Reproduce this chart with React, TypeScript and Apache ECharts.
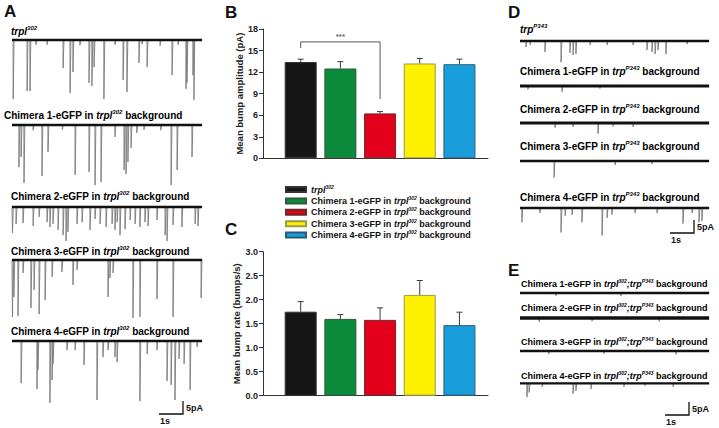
import React, { useEffect, useRef } from "react";
import * as echarts from "echarts";

type Ev = [number, number]; // [time (s), bump amplitude (pA, downward)]

// ---------- Bar chart data (B, C) ----------
const CATEGORIES = [
  "trpl302",
  "Chimera 1-eGFP in trpl302 background",
  "Chimera 2-eGFP in trpl302 background",
  "Chimera 3-eGFP in trpl302 background",
  "Chimera 4-eGFP in trpl302 background",
];
const BAR_POS = [1, 2, 3, 4, 5];
const AMP_MEAN = [13.4, 12.5, 6.25, 13.2, 13.1];
const AMP_ERR = [13.8, 13.45, 6.5, 13.9, 13.8];
const RATE_MEAN = [1.75, 1.6, 1.58, 2.1, 1.47];
const RATE_ERR = [1.96, 1.69, 1.83, 2.4, 1.74];
const AMP_TICKS = { min: 0, max: 18, step: 3 };
const RATE_TICKS = { min: 0, max: 3, step: 0.5 };
const SIG_BRACKET: number[][] = [
  [1, 15.35],
  [1, 16.2],
  [3, 16.2],
  [3, 8.25],
];
const SIG_LABEL = "***";

// ---------- Trace data (bump events read from the records) ----------
const A1: Ev[] = [[0.05,22.7],[0.63,19.6],[0.75,19.6],[1.0,1.8],[1.46,1.8],[2.13,10.8],[2.42,20.4],[2.54,12.3],[2.83,2],[3.21,16.5],[3.33,17.7],[3.42,10.4],[3.83,22.7],[4.29,1.8],[4.63,15.4],[4.79,20],[5.29,8.8],[5.42,1.6],[5.63,10.4],[6.17,2.2],[6.67,13.5],[6.92,1.8],[7.25,18.8],[7.29,16.5],[7.54,13.5],[7.58,23]];
const A2: Ev[] = [[0.29,16.2],[0.38,12.3],[0.5,22.3],[0.88,2],[1.25,19.6],[1.5,10.4],[2.1,1.8],[2.63,19.2],[3.21,18.1],[3.46,23.1],[3.71,21.9],[4.29,4.6],[4.67,17.3],[4.75,18.8],[4.83,14.2],[4.96,8.8],[5.2,3],[5.5,1.8],[6.2,2],[6.63,23.1],[6.88,17.3],[7.5,12.3]];
const A3: Ev[] = [[0.02,10],[0.17,6.5],[0.46,6.2],[0.88,7.3],[1.13,3.8],[1.46,5.8],[1.58,7.7],[1.71,6.5],[1.92,8.8],[2.13,10.8],[2.25,13.1],[2.33,9.6],[2.71,6.5],[2.92,5.8],[3.25,8.8],[3.46,4.6],[3.67,6.5],[3.92,7.7],[4.17,6.5],[4.29,8.8],[4.38,5.8],[4.5,10.8],[4.71,8.5],[4.92,5],[5.13,6.5],[5.33,7.7],[5.54,5.8],[5.67,7.3],[6.04,5],[6.38,10.8],[6.46,13.1],[6.71,6.9],[7.08,7.7],[7.63,6.5],[7.75,7.3]];
const A4: Ev[] = [[0.02,21.9],[0.08,14.2],[0.25,21.5],[0.46,5],[0.79,18.5],[0.92,11.5],[1.13,20.8],[1.38,15.4],[1.67,6.5],[2.08,4.6],[2.54,9.6],[2.71,3.8],[4.0,14.2],[4.08,6.9],[4.21,5],[5.04,22.3],[5.33,21.9],[6.04,15],[6.71,21.9],[7.88,14.6]];
const A5: Ev[] = [[0.38,16.2],[1.04,18.5],[1.08,11.2],[1.58,23.8],[1.67,15],[1.71,8.8],[2.29,3.5],[2.63,3.5],[3.0,9.2],[3.54,22.7],[3.79,6.2],[4.0,3.5],[4.29,6.2],[4.38,8.1],[5.33,23.1],[5.63,5],[6.04,3.5],[6.46,15.4],[6.63,16.9],[6.79,22.7],[6.96,6.9],[7.17,8.8],[7.42,18.8],[7.71,2.3]];

const D1: Ev[] = [[0.25,2.3],[0.42,1.5],[1.04,4.2],[1.71,8.1],[2.08,4.6],[2.21,5.4],[2.33,5],[2.92,1.5],[3.63,1.5],[4.71,1.5],[5.29,3.5],[5.5,4.2],[5.63,5],[5.75,3.5],[6.08,5],[6.96,1.2]];
const D2: Ev[] = [[0.33,1.3],[1.75,2.2],[3.33,1]];
const D3: Ev[] = [[1.46,1.8],[2.21,1.5],[3.25,4.1],[3.88,1.3],[4.71,1.5]];
const D4: Ev[] = [[1.42,6.3],[3.96,1.5],[5.5,1.2]];
const D5: Ev[] = [[0.08,5.5],[0.83,1.9],[1.71,9.4],[1.88,3],[2.17,2.6],[2.58,5.5],[3.42,10.6],[3.63,3.8],[3.83,2.6],[4.79,1.9],[5.71,1.9],[6.79,6],[7.17,1.9],[7.46,5.5],[7.58,5]];

const E1: Ev[] = [[1.5,1],[4.2,1.2]];
const E2: Ev[] = [[0.8,1.5],[3.0,1.2],[5.8,1.3]];
const E3: Ev[] = [[1.2,1.2],[3.5,1],[6.5,1.3]];
const E4: Ev[] = [[0.29,7.7],[0.38,5.1],[0.92,1.9],[2.21,5.8],[2.33,4.2],[2.96,3.2],[4.33,1.9],[5.21,1.3],[6.38,1.9]];

const DUR_A = 7.92; // s
const DUR_DE = 7.88; // s

// ---------- Styling / layout ----------
const FONT = "Liberation Sans, Arial, Helvetica, sans-serif";
const PX_PER_S = 24;
const PX_PER_PA = 2.6;
const Y_MIN = -25;
const Y_MAX = 2;

const BAR_COLORS = ["#161616", "#0a8a3a", "#e2001a", "#fff000", "#1a9edb"];
const BAR_BORDERS = ["#333333", "#2d5a3a", "#6a2a2a", "#9a9a4a", "#2a5a7a"];

const richFor = (fs: number) => ({
  b: { fontFamily: FONT, fontWeight: "bold", fontSize: fs, color: "#111", lineHeight: fs + 2 },
  i: { fontFamily: FONT, fontWeight: "bold", fontStyle: "italic", fontSize: fs, color: "#111", lineHeight: fs + 2 },
  s: { fontFamily: FONT, fontWeight: "bold", fontStyle: "italic", fontSize: Math.round(fs * 0.6), color: "#111", verticalAlign: "top", lineHeight: fs + 2 },
});

const chimTrpl = (n: number) => `{b|Chimera ${n}-eGFP in }{i|trpl}{s|302}{b| background}`;
const chimTrp = (n: number) => `{b|Chimera ${n}-eGFP in }{i|trp}{s|P343}{b| background}`;
const chimDouble = (n: number) => `{b|Chimera ${n}-eGFP in }{i|trpl}{s|302}{i|;trp}{s|P343}{b| background}`;

const LEGEND_RICH = ["{i|trpl}{s|302}", chimTrpl(1), chimTrpl(2), chimTrpl(3), chimTrpl(4)];

type TraceDef = { events: Ev[]; dur: number; left: number; base: number; band: number; label: string; lx: number; ly: number; fs: number };

const TRACES: TraceDef[] = [
  { events: A1, dur: DUR_A, left: 12, base: 40, band: 2.6, label: "{i|trpl}{s|302}", lx: 11, ly: 31, fs: 10 },
  { events: A2, dur: DUR_A, left: 12, base: 125, band: 2.6, label: chimTrpl(1), lx: 4, ly: 115, fs: 10 },
  { events: A3, dur: DUR_A, left: 12, base: 207, band: 2.6, label: chimTrpl(2), lx: 11, ly: 196, fs: 10 },
  { events: A4, dur: DUR_A, left: 12, base: 260, band: 2.6, label: chimTrpl(3), lx: 11, ly: 251, fs: 10 },
  { events: A5, dur: DUR_A, left: 12, base: 341, band: 2.6, label: chimTrpl(4), lx: 11, ly: 331, fs: 10 },
  { events: D1, dur: DUR_DE, left: 520, base: 41, band: 2.4, label: "{i|trp}{s|P343}", lx: 520, ly: 29, fs: 10 },
  { events: D2, dur: DUR_DE, left: 520, base: 86, band: 3.2, label: chimTrp(1), lx: 520, ly: 71, fs: 10 },
  { events: D3, dur: DUR_DE, left: 520, base: 123, band: 3, label: chimTrp(2), lx: 520, ly: 109, fs: 10 },
  { events: D4, dur: DUR_DE, left: 520, base: 161, band: 2.4, label: chimTrp(3), lx: 520, ly: 146, fs: 10 },
  { events: D5, dur: DUR_DE, left: 520, base: 208, band: 2.4, label: chimTrp(4), lx: 520, ly: 197, fs: 10 },
  { events: E1, dur: DUR_DE, left: 520, base: 293, band: 2.4, label: chimDouble(1), lx: 521, ly: 284, fs: 9 },
  { events: E2, dur: DUR_DE, left: 520, base: 318, band: 3.6, label: chimDouble(2), lx: 521, ly: 308, fs: 9 },
  { events: E3, dur: DUR_DE, left: 520, base: 351, band: 2.4, label: chimDouble(3), lx: 521, ly: 342, fs: 9 },
  { events: E4, dur: DUR_DE, left: 520, base: 385, band: 2.2, label: chimDouble(4), lx: 521, ly: 376, fs: 9 },
];

const PANEL_LETTERS = [
  { t: "A", x: 4, y: 11 },
  { t: "B", x: 225, y: 12 },
  { t: "C", x: 225, y: 229 },
  { t: "D", x: 508, y: 12 },
  { t: "E", x: 508, y: 270 },
];

// scale bar corners (x, y of the corner)
const SCALE_BARS = [
  { x: 183, y: 414 },
  { x: 694, y: 233 },
  { x: 689, y: 415 },
];

function spikePath(events: Ev[], dur: number): number[][] {
  const pts: number[][] = [[0, 0]];
  [...events]
    .sort((a, b) => a[0] - b[0])
    .forEach(([t, a]) => {
      pts.push([Math.max(0, t - 0.006), 0], [t, -a], [Math.min(dur, t + 0.035), 0]);
    });
  pts.push([dur, 0]);
  return pts;
}

function buildOption() {
  const grid: any[] = [];
  const xAxis: any[] = [];
  const yAxis: any[] = [];
  const series: any[] = [];
  const graphic: any[] = [];

  const axisLabelStyle = { fontFamily: FONT, fontWeight: "bold", fontSize: 9, color: "#222" };

  // Bar grids
  const barGrids = [
    { top: 29, height: 129.3, ticks: AMP_TICKS, name: "Mean bump amplitude (pA)", mean: AMP_MEAN, err: AMP_ERR, dec: 0 },
    { top: 251.7, height: 144, ticks: RATE_TICKS, name: "Mean bump rate (bumps/s)", mean: RATE_MEAN, err: RATE_ERR, dec: 1 },
  ];
  barGrids.forEach((g, gi) => {
    grid.push({ left: 263, top: g.top, width: 225, height: g.height, containLabel: false });
    xAxis.push({
      type: "value", gridIndex: gi, min: 0.05, max: 5.72,
      axisLine: { show: true, onZero: false, lineStyle: { color: "#333", width: 1 } },
      axisTick: { show: false }, axisLabel: { show: false }, splitLine: { show: false },
    });
    yAxis.push({
      type: "value", gridIndex: gi, min: g.ticks.min, max: g.ticks.max, interval: g.ticks.step,
      name: g.name, nameLocation: "middle", nameGap: 17, nameRotate: 90,
      nameTextStyle: { fontFamily: FONT, fontWeight: "bold", fontSize: 9.5, color: "#222" },
      axisLine: { show: true, lineStyle: { color: "#333", width: 1 } },
      axisTick: { show: true, inside: false, length: 4, lineStyle: { color: "#333" } },
      axisLabel: { ...axisLabelStyle, margin: 5, formatter: (v: number) => v.toFixed(g.dec) },
      splitLine: { show: false },
    });
    CATEGORIES.forEach((name, i) => {
      series.push({
        type: "bar", name, xAxisIndex: gi, yAxisIndex: gi,
        data: [[BAR_POS[i], g.mean[i]]],
        barWidth: 32, barGap: "-100%",
        itemStyle: { color: BAR_COLORS[i], borderColor: BAR_BORDERS[i], borderWidth: 1 },
        silent: true,
      });
    });
    series.push({
      type: "custom", xAxisIndex: gi, yAxisIndex: gi, z: 5, silent: true,
      data: BAR_POS.map((p, i) => [p, g.mean[i], g.err[i]]),
      encode: { x: 0, y: [1, 2] },
      renderItem: (params: any, api: any) => {
        const x = api.value(0);
        const p0 = api.coord([x, api.value(1)]);
        const p1 = api.coord([x, api.value(2)]);
        const st = { stroke: "#3a3a3a", lineWidth: 1 };
        return {
          type: "group",
          children: [
            { type: "line", shape: { x1: p0[0], y1: p0[1], x2: p1[0], y2: p1[1] }, style: st },
            { type: "line", shape: { x1: p1[0] - 3, y1: p1[1], x2: p1[0] + 3, y2: p1[1] }, style: st },
          ],
        };
      },
    });
  });

  // Significance bracket on B
  series.push({
    type: "line", xAxisIndex: 0, yAxisIndex: 0, data: SIG_BRACKET, symbol: "none", silent: true,
    lineStyle: { color: "#555", width: 1 }, z: 6,
  });
  series.push({
    type: "scatter", xAxisIndex: 0, yAxisIndex: 0, data: [[2, 16.2]], symbolSize: 0, silent: true,
    label: { show: true, position: "top", distance: 1, formatter: SIG_LABEL, fontFamily: FONT, fontWeight: "bold", fontSize: 8, color: "#333" },
  });

  // Trace grids
  TRACES.forEach((tr, k) => {
    const gi = 2 + k;
    grid.push({
      left: tr.left, top: tr.base - Y_MAX * PX_PER_PA, width: tr.dur * PX_PER_S,
      height: (Y_MAX - Y_MIN) * PX_PER_PA,
    });
    xAxis.push({ type: "value", gridIndex: gi, min: 0, max: tr.dur, show: false });
    yAxis.push({ type: "value", gridIndex: gi, min: Y_MIN, max: Y_MAX, show: false });
    series.push({
      type: "line", xAxisIndex: gi, yAxisIndex: gi, data: spikePath(tr.events, tr.dur),
      symbol: "none", silent: true, lineStyle: { color: "#7a7a7a", width: 0.9 }, z: 2,
    });
    series.push({
      type: "line", xAxisIndex: gi, yAxisIndex: gi, data: [[0, 0], [tr.dur, 0]],
      symbol: "none", silent: true, lineStyle: { color: "#111", width: tr.band }, z: 3,
    });
    graphic.push({
      type: "text", x: tr.lx, y: tr.ly, silent: true,
      style: { text: tr.label, rich: richFor(tr.fs), verticalAlign: "middle", align: "left" },
    });
  });

  PANEL_LETTERS.forEach((p) => {
    graphic.push({
      type: "text", x: p.x, y: p.y, silent: true,
      style: { text: p.t, fontFamily: FONT, fontWeight: "bold", fontSize: 17, fill: "#111", verticalAlign: "middle", align: "left" },
    });
  });

  SCALE_BARS.forEach((s) => {
    const w = 1 * PX_PER_S;
    const h = 5 * PX_PER_PA;
    graphic.push({
      type: "polyline", silent: true,
      shape: { points: [[s.x - w, s.y], [s.x, s.y], [s.x, s.y - h]] },
      style: { stroke: "#111", lineWidth: 1.3, fill: null },
    });
    graphic.push({
      type: "text", x: s.x + 3, y: s.y - 6, silent: true,
      style: { text: "5pA", fontFamily: FONT, fontWeight: "bold", fontSize: 9, fill: "#111", verticalAlign: "middle", align: "left" },
    });
    graphic.push({
      type: "text", x: s.x - w + 1, y: s.y + 7, silent: true,
      style: { text: "1s", fontFamily: FONT, fontWeight: "bold", fontSize: 9, fill: "#111", verticalAlign: "middle", align: "left" },
    });
  });

  return {
    animation: false,
    backgroundColor: "#ffffff",
    grid, xAxis, yAxis, series, graphic,
    legend: {
      show: true, orient: "vertical", left: 280, top: 179,
      itemWidth: 20, itemHeight: 5, itemGap: 1.4, selectedMode: false,
      data: CATEGORIES,
      formatter: (name: string) => LEGEND_RICH[CATEGORIES.indexOf(name)],
      textStyle: { rich: richFor(9) },
      icon: "rect",
    },
  };
}

export default function App() {
  const ref = useRef<HTMLDivElement>(null);
  useEffect(() => {
    document.body.style.margin = "0";
    const chart = echarts.init(ref.current!, null, { renderer: "svg" });
    chart.setOption(buildOption() as any);
    return () => chart.dispose();
  }, []);
  return <div ref={ref} style={{ width: 719, height: 428, background: "#fff" }} />;
}
